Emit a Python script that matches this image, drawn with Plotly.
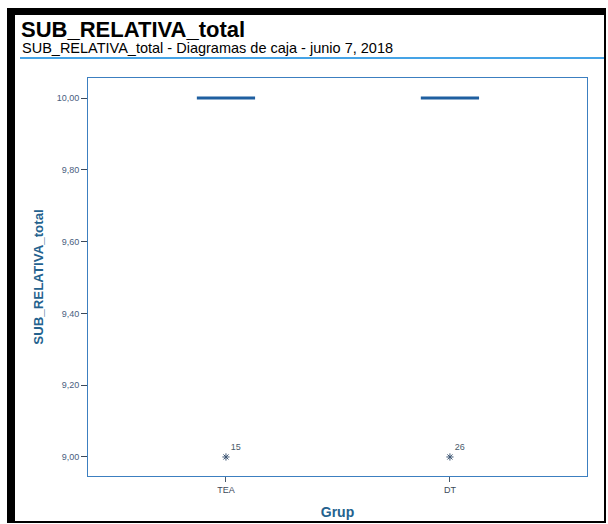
import plotly.graph_objects as go

# ---- data ----
groups = ["TEA", "DT"]
q1 = [10.0, 10.0]
median = [10.0, 10.0]
q3 = [10.0, 10.0]
lower_fence = [10.0, 10.0]
upper_fence = [10.0, 10.0]
outlier_groups = ["TEA", "DT"]
outlier_values = [9.0, 9.0]
outlier_ids = ["15", "26"]
y_ticks = [9.0, 9.2, 9.4, 9.6, 9.8, 10.0]

W, H = 608, 524
L, R, T, B = 88, 587, 78, 476  # plot area in px
FONT = "Liberation Sans, Arial, sans-serif"


def px(x):
    return (x - L) / (R - L)


def py(y):
    return (B - y) / (B - T)


fig = go.Figure()
fig.add_trace(go.Box(
    x=groups, q1=q1, median=median, q3=q3,
    lowerfence=lower_fence, upperfence=upper_fence,
    width=0.26, line=dict(color="#1f5fa0", width=3),
    fillcolor="rgba(0,0,0,0)", boxpoints=False, hoverinfo="skip",
    showlegend=False,
))
fig.add_trace(go.Scatter(
    x=outlier_groups, y=outlier_values, mode="markers+text",
    text=outlier_ids, textposition="top right",
    textfont=dict(size=9, color="#4a5a6a", family=FONT),
    marker=dict(symbol="asterisk-open", size=6, color="#3d5573",
                line=dict(color="#3d5573", width=1)),
    showlegend=False, cliponaxis=False,
))

shapes = [
    # black frame
    dict(type="rect", xref="paper", yref="paper", x0=px(7), x1=px(15), y0=py(523), y1=py(8),
         fillcolor="black", line=dict(width=0), layer="above"),
    dict(type="rect", xref="paper", yref="paper", x0=px(7), x1=px(606), y0=py(15), y1=py(8),
         fillcolor="black", line=dict(width=0), layer="above"),
    dict(type="rect", xref="paper", yref="paper", x0=px(604), x1=px(606), y0=py(523), y1=py(8),
         fillcolor="black", line=dict(width=0), layer="above"),
    dict(type="rect", xref="paper", yref="paper", x0=px(7), x1=px(606), y0=py(523), y1=py(521),
         fillcolor="black", line=dict(width=0), layer="above"),
    # blue rule under subtitle
    dict(type="line", xref="paper", yref="paper", x0=px(20), x1=px(604), y0=py(58), y1=py(58),
         line=dict(color="#45a3e6", width=2)),
]

fig.update_layout(
    width=W, height=H,
    margin=dict(l=L, r=W - R, t=T, b=H - B, pad=0, autoexpand=False),
    paper_bgcolor="white", plot_bgcolor="white",
    separators=",.",
    font=dict(family=FONT, color="#4a5a6a", size=9),
    title=dict(text="<b>SUB_RELATIVA_total</b>", xref="container", yref="container",
               x=21 / W, xanchor="left", y=1 - 29 / H, yanchor="middle",
               font=dict(size=22, color="black", family=FONT)),
    annotations=[dict(text="SUB_RELATIVA_total - Diagramas de caja - junio 7, 2018",
                      xref="paper", yref="paper", x=px(20), y=py(48), xanchor="left",
                      yanchor="middle", showarrow=False,
                      font=dict(size=14.5, color="black", family=FONT))],
    shapes=shapes,
    xaxis=dict(
        type="category", range=[-0.616, 1.612], showgrid=False, zeroline=False,
        automargin=False,
        showline=True, mirror=True, linecolor="#3c7fc0", linewidth=1,
        ticks="outside", ticklen=5, tickcolor="#4a5a6a", tickwidth=1,
        tickfont=dict(size=9, color="#3d4a5a"),
        title=dict(text="<b>Grup</b>", font=dict(size=14, color="#24628e"), standoff=13),
    ),
    yaxis=dict(
        range=[8.947, 10.0557], tickvals=y_ticks, tickformat=".2f",
        showgrid=False, zeroline=False, automargin=False,
        showline=True, mirror=True, linecolor="#3c7fc0", linewidth=1,
        ticks="outside", ticklen=6, tickcolor="#3d4a5a", tickwidth=1,
        tickfont=dict(size=9, color="#4a6080"),
        title=dict(text="<b>SUB_RELATIVA_total</b>", font=dict(size=13.3, color="#24628e"), standoff=10),
    ),
)

fig.write_html("out.html")
